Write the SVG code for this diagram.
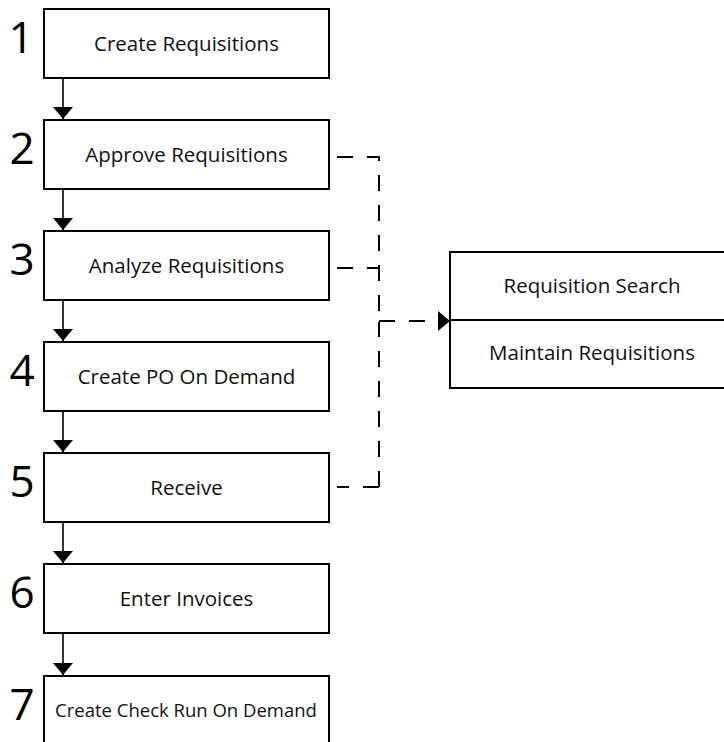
<svg xmlns="http://www.w3.org/2000/svg" width="724" height="742" viewBox="0 0 724 742">
<style>
.box{fill:#fff;stroke:#000;stroke-width:2}
.lbl{font-family:"Open Sans","Liberation Sans",sans-serif;font-size:20.5px;fill:#111;text-anchor:middle}
.sm{font-size:18.5px}
.num{font-family:"Open Sans","Liberation Sans",sans-serif;font-size:44px;fill:#000;text-anchor:middle}
.flow{stroke:#000;stroke-width:1.6;fill:none}
.dash{stroke:#000;stroke-width:2;fill:none;stroke-dasharray:16 14}
</style>
<defs>
<marker id="ah" viewBox="0 0 12 20" refX="12" refY="10" markerWidth="12" markerHeight="20" markerUnits="userSpaceOnUse" orient="auto">
<path d="M0,0 L12,10 L0,20 Z" fill="#000"/>
</marker>
</defs>
<rect width="724" height="742" fill="#fff"/>
<g id="connectors">
<line class="flow" x1="63" y1="78" x2="63" y2="119" marker-end="url(#ah)"/>
<line class="flow" x1="63" y1="189" x2="63" y2="230" marker-end="url(#ah)"/>
<line class="flow" x1="63" y1="300" x2="63" y2="341" marker-end="url(#ah)"/>
<line class="flow" x1="63" y1="411" x2="63" y2="452" marker-end="url(#ah)"/>
<line class="flow" x1="63" y1="522" x2="63" y2="563" marker-end="url(#ah)"/>
<line class="flow" x1="63" y1="633" x2="63" y2="675" marker-end="url(#ah)"/>
<path class="dash" d="M337,157 H379 V322"/>
<path class="dash" d="M379,487 H337"/>
<path class="dash" d="M379,487 V322"/>
<path class="dash" d="M337,268 H379"/>
<path class="dash" d="M379,321 H438"/>
<path d="M438,311 L450,321 L438,331 Z" fill="#000"/>
</g>
<g id="n1"><rect class="box" x="44" y="9" width="285" height="69"/><text class="num" x="21" y="53">1</text><text class="lbl" x="186.5" y="51">Create Requisitions</text></g>
<g id="n2"><rect class="box" x="44" y="120" width="285" height="69"/><text class="num" x="22" y="164">2</text><text class="lbl" x="186.5" y="162">Approve Requisitions</text></g>
<g id="n3"><rect class="box" x="44" y="231" width="285" height="69"/><text class="num" x="22" y="275">3</text><text class="lbl" x="186.5" y="273">Analyze Requisitions</text></g>
<g id="n4"><rect class="box" x="44" y="342" width="285" height="69"/><text class="num" x="22" y="386">4</text><text class="lbl" x="186.5" y="384">Create PO On Demand</text></g>
<g id="n5"><rect class="box" x="44" y="453" width="285" height="69"/><text class="num" x="22" y="497">5</text><text class="lbl" x="186.5" y="495">Receive</text></g>
<g id="n6"><rect class="box" x="44" y="564" width="285" height="69"/><text class="num" x="22" y="608">6</text><text class="lbl" x="186.5" y="606">Enter Invoices</text></g>
<g id="n7"><rect class="box" x="44" y="676" width="285" height="69"/><text class="num" x="22" y="720">7</text><text class="lbl sm" x="186" y="717">Create Check Run On Demand</text></g>
<g id="n8"><rect class="box" x="450" y="252" width="290" height="136"/><line x1="450" y1="320" x2="740" y2="320" stroke="#000" stroke-width="2"/><text class="lbl" x="592" y="293">Requisition Search</text><text class="lbl" x="592" y="360">Maintain Requisitions</text></g>
</svg>
